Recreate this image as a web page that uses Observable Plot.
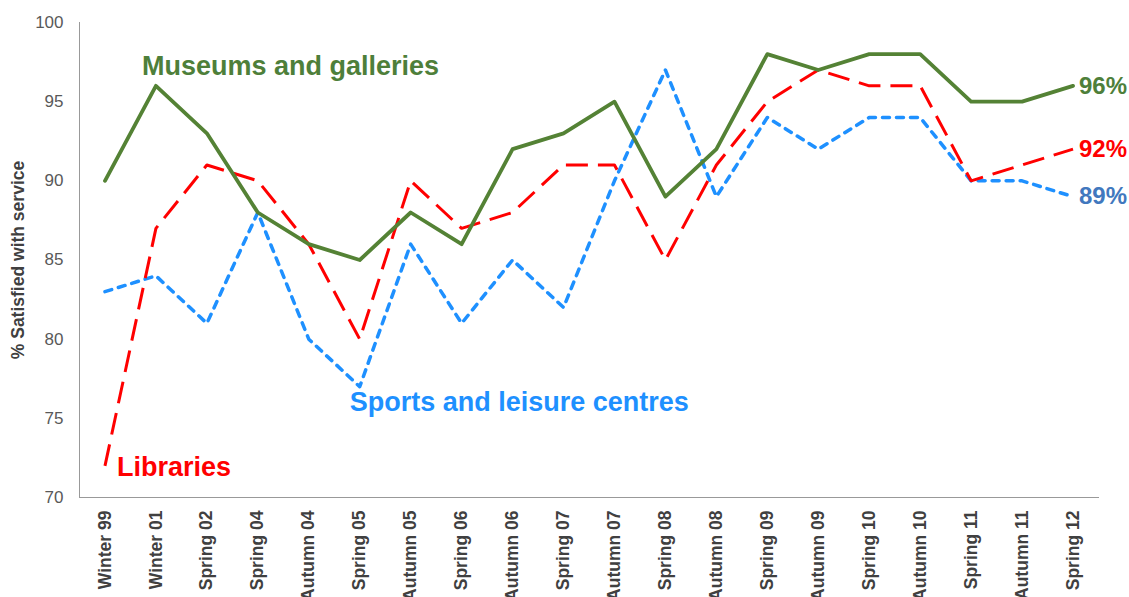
<!DOCTYPE html>
<html>
<head>
<meta charset="utf-8">
<script src="https://cdn.jsdelivr.net/npm/d3@7"></script>
<script src="https://cdn.jsdelivr.net/npm/@observablehq/plot@0.6"></script>
<style>
  html, body { margin: 0; padding: 0; background: #fff; }
  svg { font-family: "Liberation Sans", Arial, sans-serif; }
</style>
</head>
<body>
<div id="chart"></div>
<script>
const waves = ["Winter 99","Winter 01","Spring 02","Spring 04","Autumn 04","Spring 05","Autumn 05","Spring 06","Autumn 06","Spring 07","Autumn 07","Spring 08","Autumn 08","Spring 09","Autumn 09","Spring 10","Autumn 10","Spring 11","Autumn 11","Spring 12"];
const museums = [90,96,93,88,86,85,88,86,92,93,95,89,92,98,97,98,98,95,95,96];
const libraries = [72,87,91,90,86,80,90,87,88,91,91,85,91,95,97,96,96,90,91,92];
const sports = [83,84,81,88,80,77,86,81,85,82,90,97,89,94,92,94,94,90,90,89];
const yTicks = [70,75,80,85,90,95,100];

const seriesNames = ["Museums and galleries", "Libraries", "Sports and leisure centres"];
const seriesColors = ["#548235", "#FF0000", "#1E90FF"];
const nameColors = ["#4E7F3A", "#FF0000", "#1E90FF"];
const endColors = ["#4E7F3A", "#FF0000", "#4178BE"];

// series name labels: anchor category, value, offset
const nameLabelWave = ["Winter 01", "Winter 99", "Spring 05"];
const nameLabelValue = [97.2, 71.9, 76.0];
const nameLabelDx = [-14, 12, -10];

const toRows = (vals, name) => vals.map((v, i) => ({wave: waves[i], value: v, series: name}));
const mRows = toRows(museums, seriesNames[0]);
const lRows = toRows(libraries, seriesNames[1]);
const sRows = toRows(sports, seriesNames[2]);

const last = waves.length - 1;
const endRows = [
  {wave: waves[last], value: museums[last], color: endColors[0]},
  {wave: waves[last], value: libraries[last], color: endColors[1]},
  {wave: waves[last], value: sports[last], color: endColors[2]}
];
const nameMarks = seriesNames.map((n, i) =>
  Plot.text([{name: n, wave: nameLabelWave[i], value: nameLabelValue[i]}], {
    x: "wave", y: "value", text: "name", dx: nameLabelDx[i],
    fill: nameColors[i], textAnchor: "start", fontSize: 27, fontWeight: "bold"
  })
);

const chart = Plot.plot({
  width: 1129,
  height: 597,
  marginLeft: 79,
  marginRight: 31,
  marginTop: 22,
  marginBottom: 100,
  style: {fontFamily: "'Liberation Sans', Arial, sans-serif", background: "#fff"},
  x: {type: "band", domain: waves, padding: 0, round: false},
  y: {domain: [70, 100]},
  marks: [
    Plot.axisY({ticks: yTicks, tickSize: 0, tickPadding: 16, fontSize: 17, color: "#595959", label: null}),
    Plot.text(["% Satisfied with service"], {frameAnchor: "left", textAnchor: "middle", rotate: -90, dx: -61, fontSize: 17.5, fontWeight: "bold", fill: "#404040"}),
    Plot.axisX({tickSize: 0, tickPadding: 13, tickRotate: -90, fontSize: 17.5, fontWeight: "bold", color: "#404040", label: null}),
    Plot.frame({anchor: "left", stroke: "#999"}),
    Plot.frame({anchor: "bottom", stroke: "#999"}),
    Plot.line(sRows, {x: "wave", y: "value", stroke: seriesColors[2], strokeWidth: 3.5, strokeDasharray: "7,7", strokeLinecap: "round", strokeLinejoin: "round"}),
    Plot.line(lRows, {x: "wave", y: "value", stroke: seriesColors[1], strokeWidth: 3, strokeDasharray: "22,10", strokeLinecap: "butt"}),
    Plot.line(mRows, {x: "wave", y: "value", stroke: seriesColors[0], strokeWidth: 3.8}),
    ...nameMarks,
    Plot.text(endRows, {x: "wave", y: "value", text: d => d.value + "%", fill: "color", textAnchor: "start", dx: 6, fontSize: 24, fontWeight: "bold"})
  ]
});
document.getElementById("chart").appendChild(chart);
</script>
</body>
</html>
